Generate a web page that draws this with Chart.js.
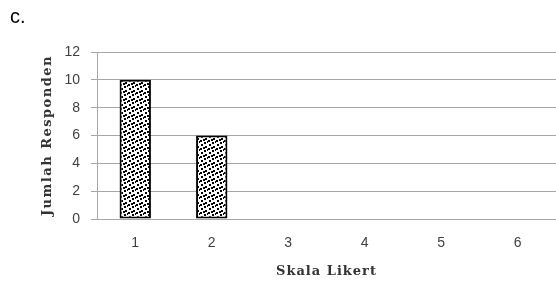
<!DOCTYPE html>
<html>
<head>
<meta charset="utf-8">
<script src="https://cdn.jsdelivr.net/npm/chart.js@4/dist/chart.umd.min.js"></script>
<style>
  html, body { margin: 0; padding: 0; background: #fff; }
  #wrap { position: relative; width: 556px; height: 281px; }
</style>
</head>
<body>
<div id="wrap"><canvas id="chart" width="556" height="281"></canvas></div>
<script>
  'use strict';

  const categories = ['1', '2', '3', '4', '5', '6'];
  const responden = [10, 6, 0, 0, 0, 0];
  const yTicks = [0, 2, 4, 6, 8, 10, 12];

  const panelLabel = 'c.';
  const xTitle = 'Skala Likert';
  const yTitle = 'Jumlah Responden';

  const GRID = '#a6a6a6';

  // dotted fill like the original bars
  function dotPattern() {
    const c = document.createElement('canvas');
    c.width = 8;
    c.height = 8;
    const g = c.getContext('2d');
    g.fillStyle = '#fff';
    g.fillRect(0, 0, 8, 8);
    g.fillStyle = '#000';
    [[1, 0], [5, 2], [0, 4], [4, 6], [3, 3], [7, 5]].forEach(([x, y]) => g.fillRect(x, y, 2, 2));
    return g.createPattern(c, 'repeat');
  }

  // spaced-out axis titles + the panel letter
  const titleSpacing = {
    id: 'titleSpacing',
    beforeDraw(chart) {
      const gaps = { x: '1px', y: '1.5px' };
      Object.keys(gaps).forEach((k) => {
        const s = chart.scales[k];
        if (!s || s._spaced) return;
        const orig = s.drawTitle;
        s.drawTitle = function () {
          this.ctx.save();
          this.ctx.letterSpacing = gaps[k];
          orig.call(this);
          this.ctx.restore();
        };
        s._spaced = true;
      });
    },
    afterDraw(chart) {
      const ctx = chart.ctx;
      ctx.save();
      ctx.font = '20px "Liberation Sans"';
      ctx.fillStyle = '#000';
      ctx.textBaseline = 'alphabetic';
      ctx.fillText(panelLabel, 10, 23);
      ctx.restore();
    },
  };

  new Chart(document.getElementById('chart'), {
    type: 'bar',
    data: {
      labels: categories,
      datasets: [
        {
          data: responden,
          backgroundColor: dotPattern(),
          borderColor: '#000',
          borderWidth: 2,
          borderSkipped: false,
          categoryPercentage: 1,
          barPercentage: 0.41,
        },
      ],
    },
    options: {
      responsive: false,
      animation: false,
      layout: { padding: { top: 52, left: 0, right: -2, bottom: 0 } },
      plugins: {
        legend: { display: false },
        tooltip: { enabled: false },
      },
      scales: {
        x: {
          grid: { display: false, drawTicks: false },
          border: { display: true, color: GRID },
          ticks: {
            padding: 16,
            color: '#404040',
            font: { family: 'Liberation Sans', size: 14 },
          },
          title: {
            display: true,
            text: xTitle,
            color: '#333',
            font: { family: 'DejaVu Serif', size: 13, weight: 'bold' },
            padding: { top: 0, bottom: 2 },
          },
          afterFit(scale) {
            scale.height = 62;
          },
        },
        y: {
          min: 0,
          max: 12,
          afterBuildTicks(scale) {
            scale.ticks = yTicks.map((v) => ({ value: v }));
          },
          grid: { color: GRID, tickLength: 6 },
          border: { display: true, color: GRID },
          ticks: {
            padding: 11,
            color: '#404040',
            font: { family: 'Liberation Sans', size: 14 },
          },
          title: {
            display: true,
            text: yTitle,
            color: '#333',
            font: { family: 'DejaVu Serif', size: 13, weight: 'bold' },
            padding: { top: 40, bottom: 0 },
          },
          afterFit(scale) {
            scale.width = 97;
          },
        },
      },
    },
    plugins: [titleSpacing],
  });
</script>
</body>
</html>
